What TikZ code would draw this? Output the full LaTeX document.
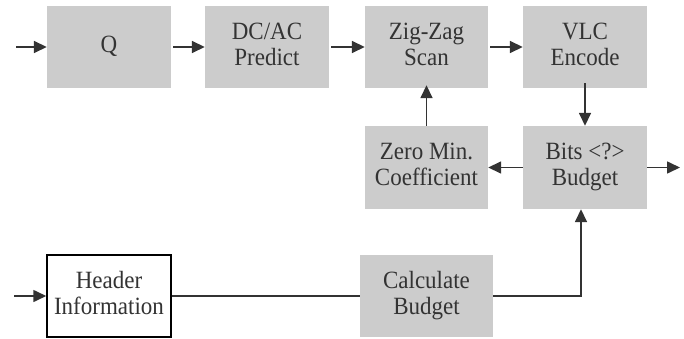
\documentclass[tikz,border=0pt]{standalone}
\usepackage{fontspec}
\setmainfont{Liberation Serif}
\usetikzlibrary{arrows.meta}
\definecolor{boxgray}{HTML}{CCCCCC}
\definecolor{ink}{HTML}{333333}
% block caption: centred lines, set slightly tall
\newcommand\blocklabel[1]{\scalebox{1}[1.08]{\begin{tabular}{@{}c@{}}#1\end{tabular}}}
\begin{document}
\begin{tikzpicture}[x=1pt,y=-1pt,
  stage/.style={rectangle, fill=boxgray, minimum width=124pt, minimum height=82pt,
    inner sep=0pt, text=ink,
    font=\fontsize{23pt}{24pt}\selectfont},
  framed/.style={stage, fill=white, draw=black, line width=1.5pt},
  flow/.style={draw=ink, line width=1.6pt, -{Triangle[length=13pt,width=12pt]}},
  plain/.style={draw=ink, line width=1.6pt}]
\useasboundingbox (0,0) rectangle (684,339);

% upper processing chain
\node[stage] (q)    at (109,47)    {\blocklabel{Q}};
\node[stage] (pred) at (267,47)    {\blocklabel{DC/AC\\Predict}};
\node[stage, minimum width=123pt] (zz)   at (426.5,47) {\blocklabel{Zig-Zag\\Scan}};
\node[stage] (vlc)  at (585,47)    {\blocklabel{VLC\\Encode}};

% rate-control loop
\node[stage, minimum height=83pt] (bits) at (585,167.5) {\blocklabel{Bits <?>\\Budget}};
\node[stage, minimum width=123pt, minimum height=83pt] (zero) at (426.5,167.5) {\blocklabel{Zero Min.\\Coefficient}};

% header path
\node[framed] (hdr)  at (109,296) {\blocklabel{Header\\Information}};
\node[stage, minimum width=133pt] (calc) at (426.5,296) {\blocklabel{Calculate\\Budget}};

% free ends
\coordinate (in1)  at (16,47);
\coordinate (in2)  at (14,296);
\coordinate (out)  at (680,167.5);

\draw[flow] (in1) -- (q.west);
\draw[flow] ([xshift=2pt]q.east) -- (pred.west);
\draw[flow] ([xshift=2pt]pred.east) -- (zz.west);
\draw[flow] ([xshift=2pt]zz.east) -- (vlc.west);
\draw[flow] ([yshift=5pt]vlc.south) -- (bits.north);
\draw[flow] (bits.west) -- (zero.east);
\draw[flow] (zero.north) -- ([yshift=3pt]zz.south);
\draw[flow] (bits.east) -- (out);

\draw[flow] (in2) -- (hdr.west);
\draw[plain] (hdr.east) -- (calc.west);
\draw[flow] (calc.east) -| ([xshift=-4pt]bits.south);
\end{tikzpicture}
\end{document}
